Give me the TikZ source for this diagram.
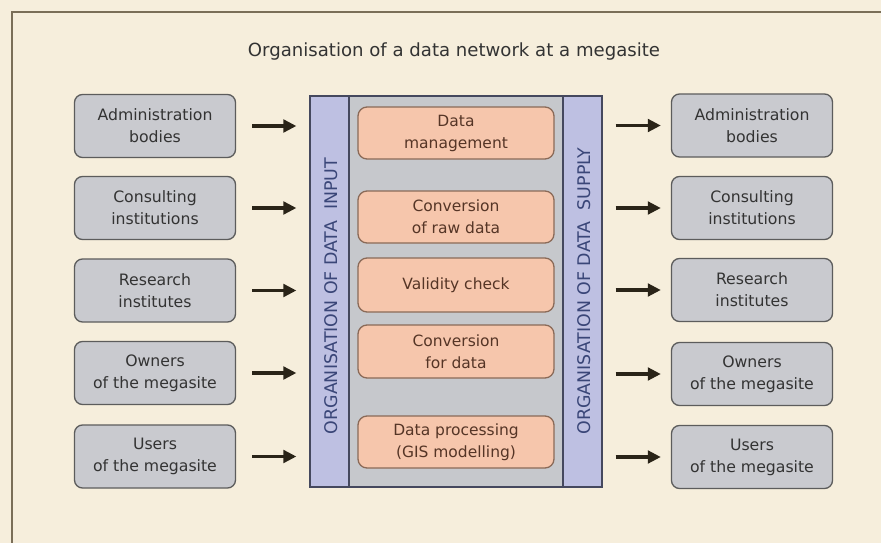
\documentclass[tikz,border=0pt]{standalone}
\usepackage{fontspec}
\setmainfont{DejaVu Sans}
\usetikzlibrary{arrows.meta}
\definecolor{bgc}{HTML}{F6EEDC}
\definecolor{framec}{HTML}{7A6E58}
\definecolor{grayfill}{HTML}{C9CACF}
\definecolor{graydraw}{HTML}{5C5C5C}
\definecolor{grtext}{HTML}{333333}
\definecolor{orfill}{HTML}{F6C6AC}
\definecolor{ordraw}{HTML}{8A6A58}
\definecolor{ortext}{HTML}{553526}
\definecolor{panelc}{HTML}{C6C8CC}
\definecolor{stripc}{HTML}{BEC0E2}
\definecolor{stripdraw}{HTML}{45485E}
\definecolor{striptext}{HTML}{3A4678}
\definecolor{arrc}{HTML}{2A2418}
\tikzset{
  outbox/.style={draw=graydraw, line width=1.3pt, fill=grayfill, rounded corners=8pt,
    minimum width=161pt, minimum height=63pt, align=center, text=grtext,
    font=\fontsize{15.7}{22}\selectfont, inner sep=0pt},
  procbox/.style={draw=ordraw, line width=1.3pt, fill=orfill, rounded corners=9pt,
    minimum width=196pt, minimum height=52pt, align=center, text=ortext,
    font=\fontsize{15.5}{22}\selectfont, inner sep=0pt},
  strip/.style={draw=stripdraw, line width=1.2pt, fill=stripc, minimum width=39pt,
    minimum height=391pt, inner sep=0pt},
  striplabel/.style={rotate=90, text=striptext, font=\fontsize{17.4}{19}\selectfont},
  arr/.style={draw=arrc, line width=3.8pt, -{Triangle[length=13pt,width=12.5pt]}}
}
\begin{document}
\begin{tikzpicture}[x=1pt,y=-1pt]
\useasboundingbox (0,0) rectangle (881,543);
\fill[bgc] (0,0) rectangle (881,543);
\draw[framec, line width=2.5pt] (12,543) -- (12,12) -- (881,12);
\node[text=grtext, font=\fontsize{18.1}{22}\selectfont] (title) at (454,52) {Organisation of a data network at a megasite};
% central panel
\node[draw=stripdraw, line width=1.2pt, fill=panelc, minimum width=292pt, minimum height=391pt, inner sep=0pt] (panel) at (456,291.5) {};
\node[strip] (sin) at (329.5,291.5) {};
\node[strip] (sout) at (582.5,291.5) {};
\node[striplabel] (lin) at (331,296) {ORGANISATION OF DATA\ \ INPUT};
\node[striplabel] (lout) at (584,291) {ORGANISATION OF DATA\ \ SUPPLY};
% process boxes
\node[procbox] (p1) at (456,133) {Data\\management};
\node[procbox] (p2) at (456,217) {Conversion\\of raw data};
\node[procbox, minimum height=54pt] (p3) at (456,285) {Validity check};
\node[procbox, minimum height=53pt] (p4) at (456,351.5) {Conversion\\for data};
\node[procbox] (p5) at (456,442) {Data processing\\(GIS modelling)};
% left boxes
\node[outbox] (l1) at (155,126) {Administration\\bodies};
\node[outbox] (l2) at (155,208) {Consulting\\institutions};
\node[outbox] (l3) at (155,290.5) {Research\\institutes};
\node[outbox] (l4) at (155,373) {Owners\\of the megasite};
\node[outbox] (l5) at (155,456.5) {Users\\of the megasite};
% right boxes
\node[outbox] (r1) at (752,125.5) {Administration\\bodies};
\node[outbox] (r2) at (752,208) {Consulting\\institutions};
\node[outbox] (r3) at (752,290) {Research\\institutes};
\node[outbox] (r4) at (752,374) {Owners\\of the megasite};
\node[outbox] (r5) at (752,457) {Users\\of the megasite};
% arrows
\foreach \i in {1,...,5}{
  \draw[arr, shorten <=16pt, shorten >=13pt] (l\i.east) -- (l\i.east -| panel.west);
  \draw[arr, shorten <=13pt, shorten >=10pt] (r\i.west -| panel.east) -- (r\i.west);
}
\end{tikzpicture}
\end{document}
